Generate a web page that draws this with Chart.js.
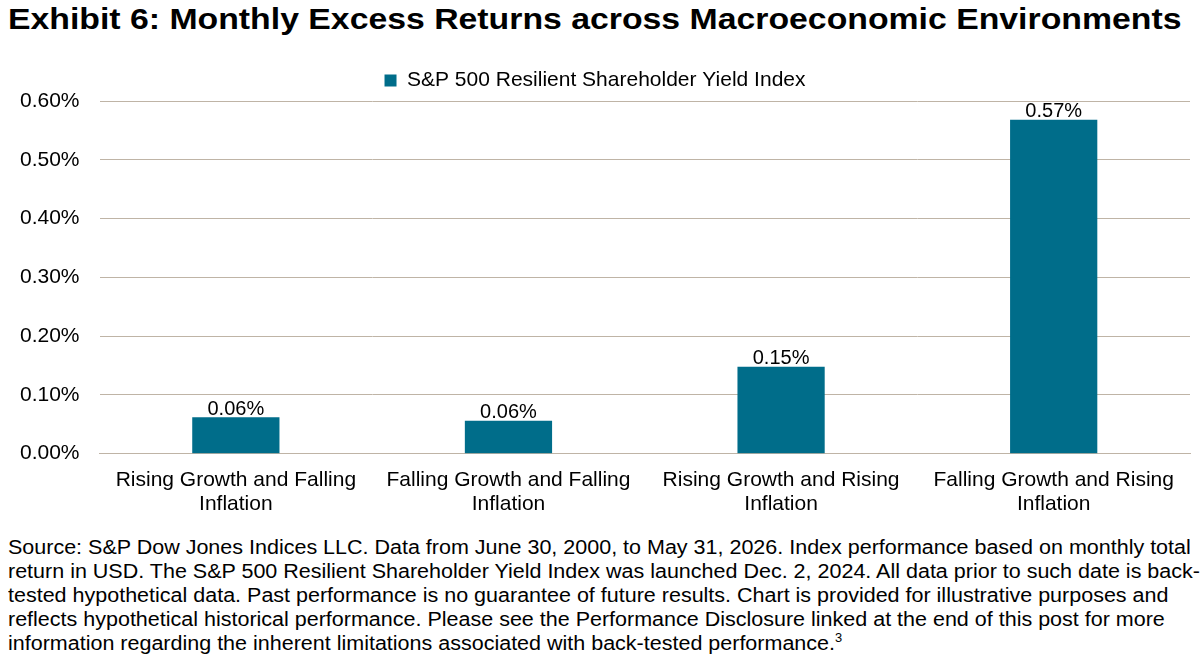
<!DOCTYPE html>
<html>
<head>
<meta charset="utf-8">
<script src="https://cdn.jsdelivr.net/npm/chart.js@4/dist/chart.umd.min.js"></script>
<style>
  body { margin: 0; width: 1200px; height: 670px; background: #fff; font-family: 'Liberation Sans', Arial, sans-serif; color: #000; overflow: hidden; }
  h1 { position: absolute; left: 8px; top: 3px; margin: 0; font-size: 29px; font-weight: bold; white-space: nowrap; transform: scaleX(1.165); transform-origin: left top; }
  .chart-box { position: absolute; left: 0; top: 56px; width: 1200px; height: 474px; }
  .note { position: absolute; left: 8px; top: 535px; font-size: 20px; line-height: 24px; white-space: nowrap; transform: scaleX(1.075); transform-origin: left top; }
  .note sup { font-size: 12px; line-height: 0; }
</style>
</head>
<body>
<h1>Exhibit 6: Monthly Excess Returns across Macroeconomic Environments</h1>
<div class="chart-box"><canvas id="excessChart"></canvas></div>
<div class="note">
Source: S&amp;P Dow Jones Indices LLC. Data from June 30, 2000, to May 31, 2026. Index performance based on monthly total<br>
return in USD. The S&amp;P 500 Resilient Shareholder Yield Index was launched Dec. 2, 2024. All data prior to such date is back-<br>
tested hypothetical data. Past performance is no guarantee of future results. Chart is provided for illustrative purposes and<br>
reflects hypothetical historical performance. Please see the Performance Disclosure linked at the end of this post for more<br>
information regarding the inherent limitations associated with back-tested performance.<sup>3</sup>
</div>
<script>
// categories and values (monthly excess return, %)
const categories = [
    ['Rising Growth and Falling', 'Inflation'],
    ['Falling Growth and Falling', 'Inflation'],
    ['Rising Growth and Rising', 'Inflation'],
    ['Falling Growth and Rising', 'Inflation']
];
const seriesName = 'S&P 500 Resilient Shareholder Yield Index';
const excessReturns = [0.062, 0.056, 0.148, 0.568];
const valueLabels = ['0.06%', '0.06%', '0.15%', '0.57%'];
const yTicks = [0, 0.1, 0.2, 0.3, 0.4, 0.5, 0.6];

const fontFamily = "'Liberation Sans', Arial, sans-serif";

// draws the value text above each bar
const barValues = {
    id: 'barValues',
    afterDatasetsDraw(chart) {
        const ctx = chart.ctx;
        const meta = chart.getDatasetMeta(0);
        ctx.save();
        ctx.font = '20px ' + fontFamily;
        ctx.fillStyle = '#000';
        ctx.textAlign = 'center';
        ctx.textBaseline = 'bottom';
        meta.data.forEach(function (bar, i) {
            ctx.fillText(valueLabels[i], bar.x, bar.y + 2);
        });
        ctx.restore();
    }
};

const ctx = document.getElementById('excessChart');
new Chart(ctx, {
    type: 'bar',
    data: {
        labels: categories,
        datasets: [{
            label: seriesName,
            data: excessReturns,
            backgroundColor: '#006d8a',
            categoryPercentage: 0.64,
            barPercentage: 0.5
        }]
    },
    options: {
        responsive: true,
        maintainAspectRatio: false,
        animation: false,
        layout: { padding: { left: 0, right: 10, top: 0, bottom: 0 } },
        plugins: {
            legend: {
                position: 'top',
                labels: {
                    boxWidth: 12,
                    boxHeight: 12,
                    color: '#000',
                    padding: 14,
                    font: { size: 21, family: fontFamily }
                }
            },
            tooltip: { enabled: false }
        },
        scales: {
            x: {
                grid: { display: false, drawTicks: false },
                border: { color: '#bfb4a6', width: 1 },
                ticks: {
                    color: '#000',
                    padding: 14,
                    maxRotation: 0,
                    font: { size: 21, family: fontFamily, lineHeight: 1.15 }
                }
            },
            y: {
                min: 0,
                max: 0.6,
                afterBuildTicks: function (axis) {
                    axis.ticks = yTicks.map(function (v) { return { value: v }; });
                },
                grid: { color: '#bfb4a6', drawTicks: false },
                border: { display: false },
                ticks: {
                    color: '#000',
                    padding: 20,
                    font: { size: 21, family: fontFamily },
                    callback: function (value) {
                        return value.toFixed(2) + '%';
                    }
                }
            }
        }
    },
    plugins: [barValues]
});
</script>
</body>
</html>
